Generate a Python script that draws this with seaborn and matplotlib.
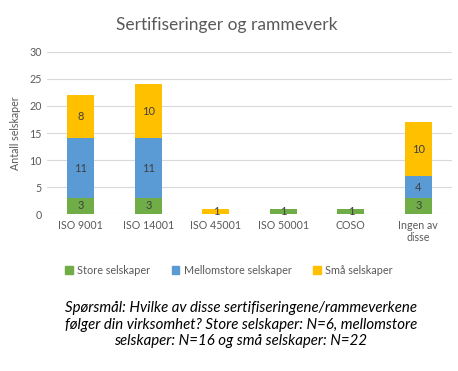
import matplotlib.pyplot as plt
import seaborn as sns
import pandas as pd
import numpy as np
from matplotlib.patches import Patch

# data
categories = ['ISO 9001', 'ISO 14001', 'ISO 45001', 'ISO 50001', 'COSO', 'Ingen av\ndisse']
store = [3, 3, 0, 1, 1, 3]
mellomstore = [11, 11, 0, 0, 0, 4]
smaa = [8, 10, 1, 0, 0, 10]
series_names = ['Store selskaper', 'Mellomstore selskaper', 'Små selskaper']
colors = ['#70AD47', '#5B9BD5', '#FFC000']

sns.set_style("white")
plt.rcParams['font.family'] = ['Lato', 'DejaVu Sans']

fig = plt.figure(figsize=(4.58, 3.71), dpi=100)
ax = fig.add_axes([0.103, 0.423, 0.884, 0.437])

df = pd.DataFrame({'cat': categories, 'Store': store, 'Mellom': mellomstore, 'Smaa': smaa})
bottom = np.zeros(len(categories))
for col, name, c in zip(['Store', 'Mellom', 'Smaa'], series_names, colors):
    vals = df[col].values
    sns.barplot(x=df['cat'], y=vals, bottom=bottom, color=c, width=0.4,
                ax=ax, linewidth=0, saturation=1, zorder=3)
    cont = ax.containers[-1]
    labels = [str(v) if v > 0 else '' for v in vals]
    ax.bar_label(cont, labels=labels, label_type='center', fontsize=8, color='#404040')
    bottom = bottom + vals

ax.set_ylim(0, 30)
ax.set_yticks(range(0, 31, 5))
ax.yaxis.grid(True, color='#D9D9D9', lw=0.8, zorder=0)
ax.tick_params(axis='both', length=0, labelsize=7.7, colors='#595959', pad=4)
ax.set_xlabel('')
ax.set_ylabel('Antall selskaper', fontsize=7.7, color='#595959', labelpad=6)
for s in ax.spines.values():
    s.set_visible(False)

fig.text(0.496, 0.932, 'Sertifiseringer og rammeverk', ha='center', va='center',
         fontsize=12.5, color='#595959')

handles = [Patch(color=c, label=n) for c, n in zip(colors, series_names)]
fig.legend(handles=handles, loc='center', bbox_to_anchor=(0.5, 0.272), ncol=3, frameon=False,
           fontsize=7.8, handlelength=0.7, handleheight=0.7, handletextpad=0.4,
           columnspacing=2.0, labelcolor='#595959')

fig.text(0.526, 0.125, 'Spørsmål: Hvilke av disse sertifiseringene/rammeverkene\n'
         'følger din virksomhet? Store selskaper: N=6, mellomstore\n'
         'selskaper: N=16 og små selskaper: N=22',
         ha='center', va='center', fontsize=10.8, style='italic', color='black', linespacing=1.2)

fig.savefig('out.png', dpi=100)
